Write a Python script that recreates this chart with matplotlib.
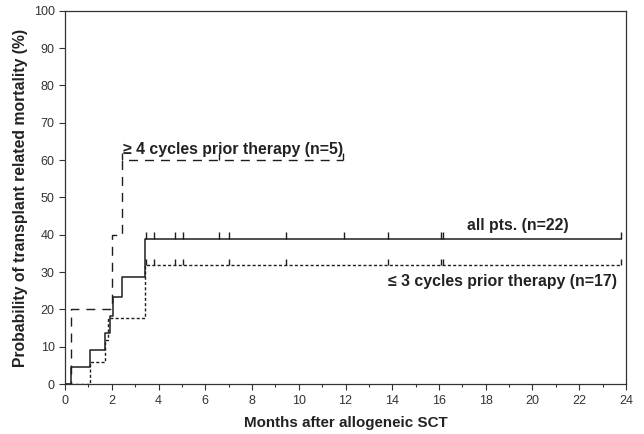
import matplotlib.pyplot as plt
from matplotlib.ticker import MultipleLocator

plt.rcParams['font.family'] = ['Liberation Sans', 'DejaVu Sans']

# Kaplan-Meier steps (months, % TRM)
all_t = [0, 0.26, 1.05, 1.69, 1.93, 2.07, 2.43, 3.43, 23.8]
all_v = [0, 4.55, 9.09, 13.6, 18.2, 23.4, 28.6, 38.9, 38.9]
all_cens = [3.47, 3.79, 4.71, 5.03, 6.6, 7.0, 9.45, 11.95, 13.8, 16.07, 16.17, 23.8]

low_t = [0, 1.05, 1.69, 1.85, 3.43, 23.8]
low_v = [0, 5.9, 11.8, 17.6, 32.0, 32.0]
low_cens = [3.45, 3.79, 4.71, 5.03, 7.0, 9.45, 13.8, 16.07, 16.17, 23.8]

high_t = [0, 0.26, 2.0, 2.42, 11.9]
high_v = [0, 20, 40, 60, 60]
high_cens = [2.42, 6.6, 11.9]

col = '#1e1e1e'
fig = plt.figure(figsize=(6.44, 4.34), dpi=100)
ax = fig.add_axes([0.101, 0.115, 0.871, 0.86])

ax.step(all_t, all_v, where='post', color=col, lw=1.1)
ax.step(low_t, low_v, where='post', color=col, lw=1.0, dashes=(2.2, 1.6))
ax.step(high_t, high_v, where='post', color=col, lw=1.0, dashes=(6.5, 5))

# censor marks (short ticks above the curve)
ax.vlines(all_cens, all_v[-1], all_v[-1] + 1.9, color=col, lw=1.0)
ax.vlines(low_cens, low_v[-1], low_v[-1] + 1.6, color=col, lw=1.0)
ax.vlines(high_cens, high_v[-1], high_v[-1] + 1.9, color=col, lw=1.0)

fs = 11.4
ax.text(2.5, 61.6, '≥ 4 cycles prior therapy (n=5)', fontsize=fs, fontweight='bold', color='#222')
ax.text(17.2, 41.4, 'all pts. (n=22)', fontsize=fs, fontweight='bold', color='#222')
ax.text(13.8, 26.2, '≤ 3 cycles prior therapy (n=17)', fontsize=fs, fontweight='bold', color='#222')

ax.set_xlim(0, 24)
ax.set_ylim(0, 100)
ax.xaxis.set_major_locator(MultipleLocator(2))
ax.xaxis.set_minor_locator(MultipleLocator(1))
ax.yaxis.set_major_locator(MultipleLocator(10))
ax.tick_params(which='major', direction='out', length=4, width=0.8, color='#333', labelsize=9, labelcolor='#333')
ax.tick_params(which='minor', direction='out', length=2.5, width=0.8, color='#333')
for s in ax.spines.values():
    s.set_color('#333')
    s.set_linewidth(0.9)

ax.set_xlabel('Months after allogeneic SCT', fontsize=10.9, fontweight='bold', color='#222', labelpad=7)
ax.set_ylabel('Probability of transplant related mortality (%)', fontsize=11.3, fontweight='bold', color='#222', labelpad=4)

plt.savefig('out.png', dpi=100)
